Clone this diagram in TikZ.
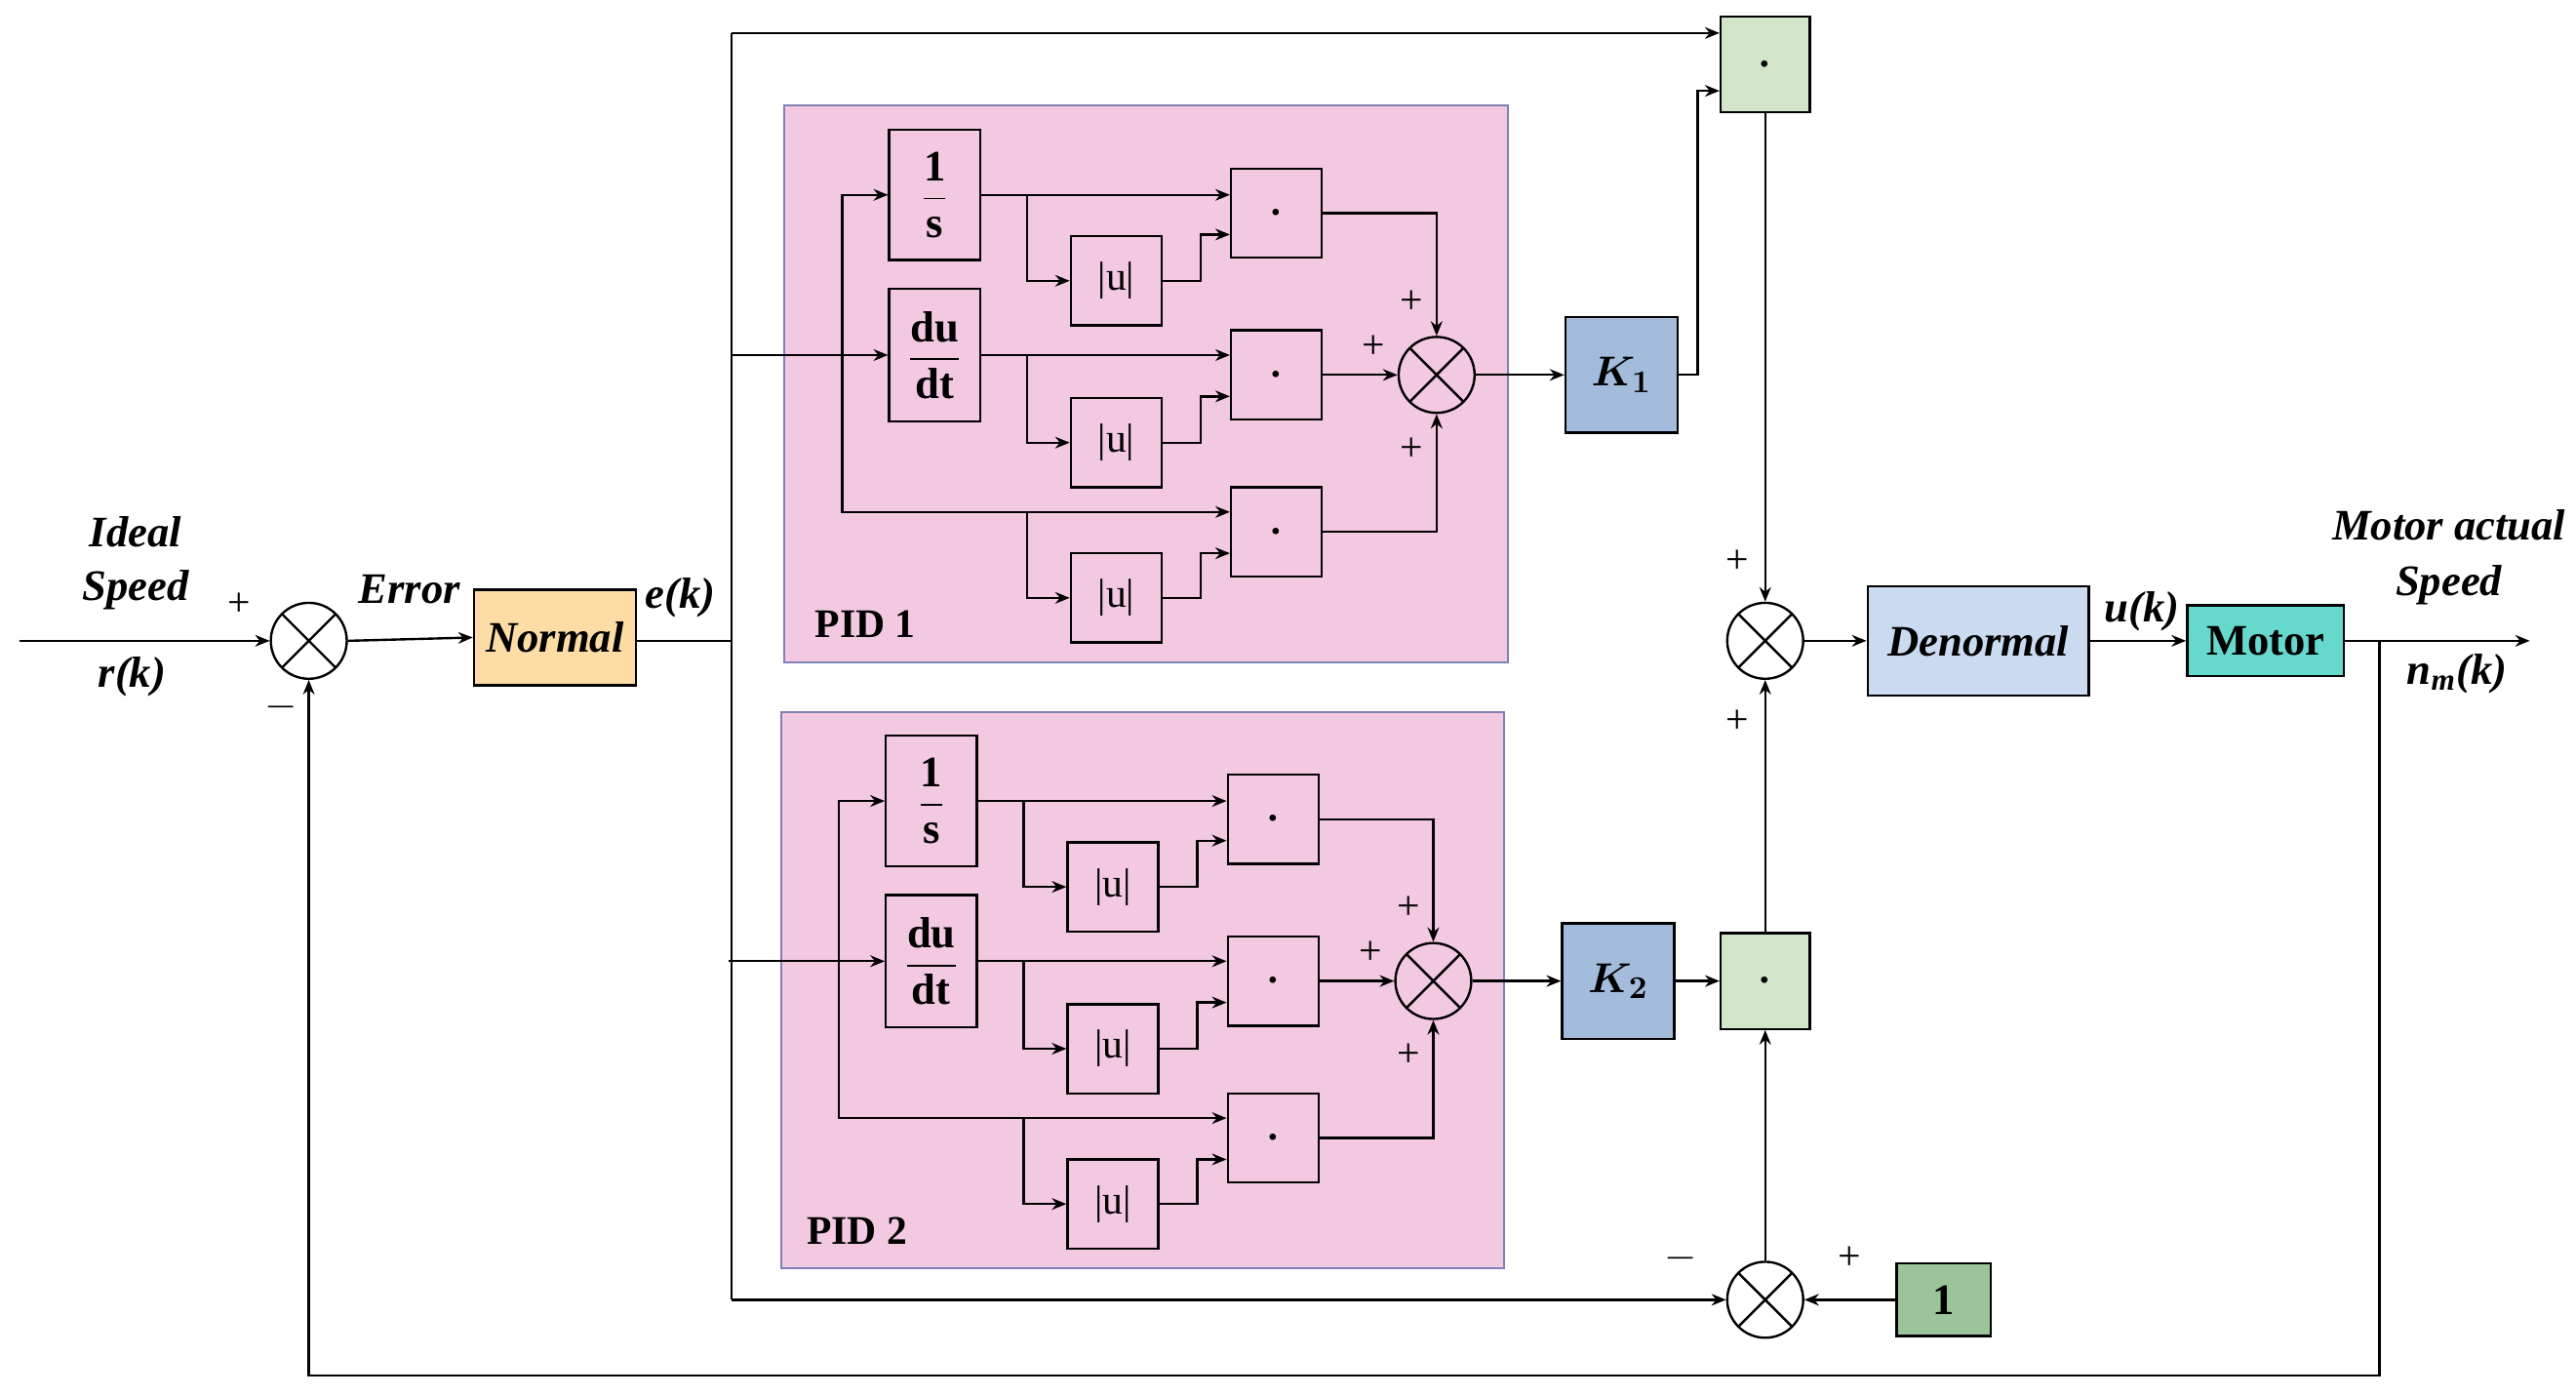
\documentclass[tikz,border=0pt]{standalone}
\usepackage{amsmath}
\usepackage{bm}
\usepackage{fontspec}
\setmainfont{Liberation Serif}
\usetikzlibrary{arrows.meta,calc}
\definecolor{pidpink}{HTML}{F2C9E1}
\definecolor{pidline}{HTML}{8080B8}
\definecolor{normc}{HTML}{FDDCA5}
\definecolor{kc}{HTML}{A4BCDB}
\definecolor{denc}{HTML}{CADAF0}
\definecolor{motc}{HTML}{66D9CF}
\definecolor{prodg}{HTML}{D2E5C8}
\definecolor{oneg}{HTML}{9CC49A}
\begin{document}
\begin{tikzpicture}[x=0.02cm,y=-0.02cm,line width=0.8pt,
  arr/.style={-{Stealth[length=5pt,width=4pt]}},
  box/.style={draw,inner sep=0pt,font=\fontsize{14}{16}\selectfont},
  sq/.style={box,minimum width=1.1cm,minimum height=1.08cm},
  sumn/.style={circle,draw,minimum size=0.92cm,inner sep=0pt,
    path picture={\draw (path picture bounding box.north west)--(path picture bounding box.south east)
      (path picture bounding box.north east)--(path picture bounding box.south west);}},
  lab/.style={font=\fontsize{15}{17}\selectfont\bfseries\itshape},
  pm/.style={font=\fontsize{14}{16}\selectfont}]
\useasboundingbox (0,0) rectangle (1560,845);
\newcommand\pidblock[3]{%
\begin{scope}[shift={(#1,#2)}]
  \path[fill=pidpink,draw=pidline,line width=0.6pt] (475,64) rectangle (913,401);
  \node[box,minimum width=1.1cm,minimum height=1.58cm,font=\fontsize{15}{17}\selectfont] (#3s) at (566,118) {$\dfrac{\mathbf{1}}{\mathbf{s}}$};
  \node[box,minimum width=1.1cm,minimum height=1.6cm,font=\fontsize{15}{17}\selectfont] (#3d) at (566,215) {$\dfrac{\mathbf{du}}{\mathbf{dt}}$};
  \node[sq] (#3p1) at (773,129) {$\bm{\cdot}$};
  \node[sq] (#3p2) at (773,227) {$\bm{\cdot}$};
  \node[sq] (#3p3) at (773,322) {$\bm{\cdot}$};
  \node[sq] (#3u1) at (676,170) {|u|};
  \node[sq] (#3u2) at (676,268) {|u|};
  \node[sq] (#3u3) at (676,362) {|u|};
  \node[sumn] (#3sum) at (870,227) {};
  \coordinate (#3in) at (443,215);
  \coordinate (#3sp) at (510,215);
  \draw[arr] (#3in) -- (#3d.west);
  \draw[arr] (#3sp) |- (#3s.west);
  \draw[arr] (#3sp) |- ($(#3p3.west)+(0,-12)$);
  \draw[arr] (#3s.east) -- ($(#3p1.west)+(0,-11)$);
  \draw[arr] (622,118) |- (#3u1.west);
  \draw[arr] (#3u1.east) -- (727,170) |- ($(#3p1.west)+(0,13)$);
  \draw[arr] (#3d.east) -- ($(#3p2.west)+(0,-12)$);
  \draw[arr] (622,215) |- (#3u2.west);
  \draw[arr] (#3u2.east) -- (727,268) |- ($(#3p2.west)+(0,13)$);
  \draw[arr] (622,310) |- (#3u3.west);
  \draw[arr] (#3u3.east) -- (727,362) |- ($(#3p3.west)+(0,13)$);
  \draw[arr] (#3p1.east) -| (#3sum.north);
  \draw[arr] (#3p2.east) -- (#3sum.west);
  \draw[arr] (#3p3.east) -| (#3sum.south);
  \node[pm] at (855,183) {+};
  \node[pm] at (832,210) {+};
  \node[pm] at (855,272) {+};
\end{scope}}
\pidblock{0}{0}{a}
\pidblock{-2}{367}{b}
\node[font=\fontsize{14}{16}\selectfont\bfseries] at (524,378) {PID 1};
\node[font=\fontsize{14}{16}\selectfont\bfseries] at (519,745) {PID 2};
% main
\coordinate (in) at (12,388);
\node[sumn] (s1) at (187,388) {};
\node[box,fill=normc,minimum width=1.96cm,minimum height=1.16cm,lab] (norm) at (336,386) {Normal};
\coordinate (ej) at (443,388);
\coordinate (top) at (443,20);
\coordinate (bot) at (443,787);
\node[box,fill=prodg,minimum width=1.08cm,minimum height=1.16cm] (pt) at (1069,39) {$\bm{\cdot}$};
\node[box,fill=kc,minimum width=1.36cm,minimum height=1.4cm,lab] (k1) at (982,227) {$\bm{K_1}$};
\node[box,fill=kc,minimum width=1.36cm,minimum height=1.4cm,lab] (k2) at (980,594) {$\bm{K_2}$};
\node[box,fill=prodg,minimum width=1.08cm,minimum height=1.16cm] (pb) at (1069,594) {$\bm{\cdot}$};
\node[sumn] (s3) at (1069,388) {};
\node[sumn] (s4) at (1069,787) {};
\node[box,fill=oneg,minimum width=1.14cm,minimum height=0.88cm,font=\fontsize{15}{17}\selectfont\bfseries] (one) at (1177,787) {1};
\node[box,fill=denc,minimum width=2.68cm,minimum height=1.32cm,lab] (den) at (1198,388) {Denormal};
\node[box,fill=motc,minimum width=1.9cm,minimum height=0.86cm,font=\fontsize{15}{17}\selectfont\bfseries] (mot) at (1372,388) {Motor};
\coordinate (out) at (1532,388);
\coordinate (fb) at (1441,388);
\draw[arr] (in) -- (s1.west);
\draw[arr] (s1.east) -- (norm.west);
\draw (norm.east|-ej) -- (ej);
\draw (top) -- (bot);
\draw[arr] (top) -- ($(pt.west)+(0,-19)$);
\draw[arr] (asum.east) -- (k1.west);
\draw[arr] (bsum.east) -- (k2.west);
\draw[arr] (k1.east) -- (1028,227) |- ($(pt.west)+(0,16)$);
\draw[arr] (pt.south) -- (s3.north);
\draw[arr] (k2.east) -- (pb.west);
\draw[arr] (pb.north) -- (s3.south);
\draw[arr] (s4.north) -- (pb.south);
\draw[arr] (bot) -- (s4.west);
\draw[arr] (one.west) -- (s4.east);
\draw[arr] (s3.east) -- (den.west);
\draw[arr] (den.east) -- (mot.west);
\draw[arr] (mot.east) -- (out);
\draw[arr] (fb) -- (1441,833) -| (s1.south);
% labels
\node[lab] at (82,322) {Ideal};
\node[lab] at (82,357) {Speed};
\node[lab] at (80,410) {r(k)};
\node[pm] at (145,366) {+};
\node[pm] at (170,428) {$-$};
\node[lab] at (248,357) {Error};
\node[lab] at (412,362) {e(k)};
\node[pm] at (1052,340) {+};
\node[pm] at (1052,437) {+};
\node[pm] at (1120,762) {+};
\node[pm] at (1018,762) {$-$};
\node[lab] at (1297,370) {u(k)};
\node[lab] at (1483,318) {Motor actual};
\node[lab] at (1483,354) {Speed};
\node[lab] at (1488,408) {n\textsubscript{m}(k)};
\end{tikzpicture}
\end{document}
